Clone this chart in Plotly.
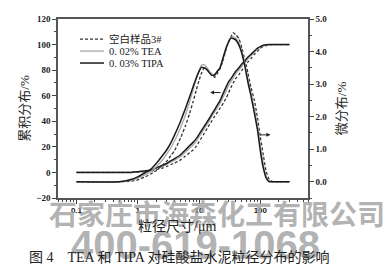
import plotly.graph_objects as go

# particle size (um)
size_um = [0.1, 0.5, 0.75, 1.0, 1.3, 1.6, 2.0, 2.5, 3.0, 3.5,
           4.0, 5.0, 6.0, 7.0, 8.0, 9.0, 10, 11, 12, 13,
           14, 16, 18, 20, 22, 25, 28, 30, 33, 36,
           40, 45, 50, 56, 63, 70, 80, 90, 100, 112,
           125, 140, 160, 200, 300]

# cumulative distribution (%)
blank_cum = [0, 0, 0, 0.3, 0.6, 0.9, 2.1, 3.4, 4.7, 6.2,
             7.4, 9.8, 12.8, 15.4, 17.6, 20.3, 23.9, 27.1, 30.1, 32.9,
             35.5, 40.0, 43.8, 47.1, 50.2, 54.3, 58.6, 61.8, 66.3, 69.9,
             73.7, 76.7, 79.8, 83.0, 86.4, 88.8, 92.3, 94.9, 97.1, 98.6,
             99.2, 99.8, 100, 100, 100]
tea_cum = [0, 0, 0, 0.5, 1.0, 1.4, 3.1, 4.7, 6.3, 8.2,
           9.6, 12.4, 15.9, 18.9, 21.4, 24.3, 27.7, 30.8, 33.7, 36.3,
           38.8, 43.4, 47.3, 50.9, 54.0, 59.4, 64.3, 67.5, 70.8, 73.8,
           77.4, 80.2, 83.0, 85.9, 88.9, 91.1, 94.0, 96.4, 97.9, 99.1,
           99.6, 99.9, 100, 100, 100]
tipa_cum = [0, 0, 0, 0.6, 1.2, 1.7, 3.6, 5.4, 7.2, 9.2,
            10.8, 13.8, 17.6, 20.8, 23.5, 26.4, 29.8, 32.8, 35.6, 38.2,
            40.6, 45.2, 49.2, 52.9, 56.1, 62.2, 67.3, 70.5, 73.2, 75.9,
            79.3, 82.0, 84.8, 87.4, 90.2, 92.3, 95.0, 97.2, 98.4, 99.4,
            99.8, 100, 100, 100, 100]

# differential distribution (%)
blank_diff = [0, 0, 0.01, 0.06, 0.14, 0.23, 0.34, 0.50, 0.64, 0.81,
              0.96, 1.34, 1.72, 2.09, 2.46, 2.81, 3.11, 3.34, 3.49, 3.47,
              3.44, 3.31, 3.21, 3.33, 3.47, 3.76, 4.10, 4.30, 4.44, 4.58,
              4.51, 4.39, 4.10, 3.75, 3.33, 2.92, 2.50, 1.96, 1.38, 0.81,
              0.30, 0.07, 0, 0, 0]
tea_diff = [0, 0, 0.04, 0.11, 0.21, 0.30, 0.46, 0.66, 0.86, 1.06,
            1.26, 1.66, 2.05, 2.45, 2.82, 3.15, 3.42, 3.58, 3.60, 3.55,
            3.46, 3.32, 3.30, 3.40, 3.50, 3.82, 4.13, 4.28, 4.44, 4.46,
            4.40, 4.25, 4.00, 3.63, 3.14, 2.76, 2.24, 1.72, 1.10, 0.55,
            0.17, 0.02, 0, 0, 0]
tipa_diff = [0, 0, 0.06, 0.15, 0.27, 0.37, 0.56, 0.79, 0.99, 1.21,
             1.44, 1.86, 2.25, 2.60, 2.92, 3.19, 3.39, 3.52, 3.50, 3.47,
             3.40, 3.27, 3.28, 3.40, 3.50, 3.85, 4.14, 4.27, 4.41, 4.40,
             4.35, 4.19, 3.94, 3.55, 3.04, 2.66, 2.11, 1.59, 0.95, 0.42,
             0.11, 0, 0, 0, 0]

series_names = ["空白样品3#", "0. 02% TEA", "0. 03% TIPA"]
x_ticks = [0.1, 1, 10, 100]
x_tick_text = ["0.1", "1", "10", "100"]
y_left_ticks = [-20, 0, 20, 40, 60, 80, 100, 120]
y_right_ticks = [0, 1, 2, 3, 4, 5]
y_right_text = ["0.0", "1.0", "2.0", "3.0", "4.0", "5.0"]

styles = [
    dict(color="#333333", width=1.3, dash="3px,2px"),
    dict(color="#a8a8a8", width=1.3, dash="solid"),
    dict(color="#1a1a1a", width=1.5, dash="solid"),
]
cums = [blank_cum, tea_cum, tipa_cum]
diffs = [blank_diff, tea_diff, tipa_diff]

cjk = "Liberation Serif, Noto Sans CJK SC"

fig = go.Figure()
for i, name in enumerate(series_names):
    fig.add_trace(go.Scatter(x=size_um, y=cums[i], mode="lines", name=name,
                             legendgroup=name, showlegend=False,
                             line=dict(shape="spline", smoothing=0.4, **styles[i]),
                             yaxis="y"))
    fig.add_trace(go.Scatter(x=size_um, y=diffs[i], mode="lines", name=name,
                             legendgroup=name, showlegend=False,
                             line=dict(shape="spline", smoothing=0.4, **styles[i]),
                             yaxis="y2"))

# compact legend (line sample + label), rows 12 px apart
legend_rows_y = [0.888, 0.821, 0.754]
for i, name in enumerate(series_names):
    fig.add_shape(type="line", xref="paper", yref="paper",
                  x0=0.088, x1=0.184, y0=legend_rows_y[i], y1=legend_rows_y[i],
                  line=styles[i])
    fig.add_annotation(x=0.196, y=legend_rows_y[i], xref="paper", yref="paper",
                       text=name, showarrow=False, xanchor="left", yanchor="middle",
                       font=dict(family=cjk, size=10.5, color="#222"))

minor_x = [m * 10 ** e for e in (-2, -1, 0, 1, 2) for m in range(2, 10)]
minor_x = [v for v in minor_x if 0.05 <= v <= 600]

tickfont_serif = dict(family="Liberation Serif", size=9, color="#222", weight="bold")
axis_line = dict(showline=True, linecolor="#555", linewidth=1.5)

fig.update_layout(
    width=384, height=266,
    margin=dict(l=58, r=76, t=19, b=68),
    paper_bgcolor="white", plot_bgcolor="white",
    showlegend=False,
    xaxis=dict(type="log", range=[-1.301, 2.778],
               tickmode="array", tickvals=x_ticks, ticktext=x_tick_text,
               ticks="outside", ticklen=4, tickwidth=1, tickcolor="#444",
               minor=dict(tickmode="array", tickvals=minor_x, ticks="outside",
                          ticklen=2, tickcolor="#444", showgrid=False),
               tickfont=dict(family="Liberation Sans", size=8, color="#222", weight="bold"),
               showgrid=False, zeroline=False, mirror=True, **axis_line),
    yaxis=dict(range=[-20, 120], tickmode="array", tickvals=y_left_ticks,
               ticks="outside", ticklen=4, tickwidth=1, tickcolor="#444",
               minor=dict(dtick=10, ticks="outside", ticklen=2, tickcolor="#444", showgrid=False),
               tickfont=tickfont_serif, showgrid=False, zeroline=False,
               **axis_line,
               title=dict(text="累积分布/%", standoff=4,
                          font=dict(family=cjk, size=13, color="#222"))),
    yaxis2=dict(range=[-0.5, 5.0], overlaying="y", side="right", anchor="x",
                tickmode="array", tickvals=y_right_ticks, ticktext=y_right_text,
                ticks="outside", ticklen=4, tickwidth=1, tickcolor="#444",
                minor=dict(dtick=0.5, ticks="outside", ticklen=2, tickcolor="#444", showgrid=False),
                tickfont=tickfont_serif, showgrid=False, zeroline=False,
                **axis_line,
                title=dict(text="微分布/%", standoff=11,
                           font=dict(family=cjk, size=13, color="#222"))),
)

# direction arrows
fig.add_annotation(x=1.18, y=62.5, xref="x", yref="y", ax=12, ay=0,
                   showarrow=True, arrowhead=2, arrowsize=0.8, arrowwidth=1,
                   arrowcolor="#222", text="")
fig.add_annotation(x=2.164, y=1.44, xref="x", yref="y2", ax=-12, ay=0,
                   showarrow=True, arrowhead=2, arrowsize=0.8, arrowwidth=1,
                   arrowcolor="#222", text="")

# watermarks
fig.add_annotation(x=0.635, y=-0.085, xref="paper", yref="paper",
                   text="石家庄市海森化工有限公司", showarrow=False,
                   xanchor="center", yanchor="middle",
                   font=dict(family="Noto Sans CJK SC", size=28,
                             color="rgba(165,165,165,0.85)", weight="bold"))
fig.add_annotation(x=0.55, y=-0.265, xref="paper", yref="paper",
                   text="400-619-1068", showarrow=False,
                   xanchor="center", yanchor="middle",
                   font=dict(family="Liberation Sans Narrow, Liberation Sans", size=40,
                             color="rgba(165,165,165,0.85)", weight="bold"))
# x-axis title (drawn over the watermark, as in the reference)
fig.add_annotation(x=0.476, y=-0.162, xref="paper", yref="paper",
                   text="粒径尺寸/μm", showarrow=False,
                   xanchor="center", yanchor="middle",
                   font=dict(family=cjk, size=14, color="#222"))
# caption
fig.add_annotation(x=0.484, y=-0.33, xref="paper", yref="paper",
                   text="图 4　TEA 和 TIPA 对硅酸盐水泥粒径分布的影响", showarrow=False,
                   xanchor="center", yanchor="middle",
                   font=dict(family=cjk, size=14, color="#222"))

fig.write_html("out.html")
